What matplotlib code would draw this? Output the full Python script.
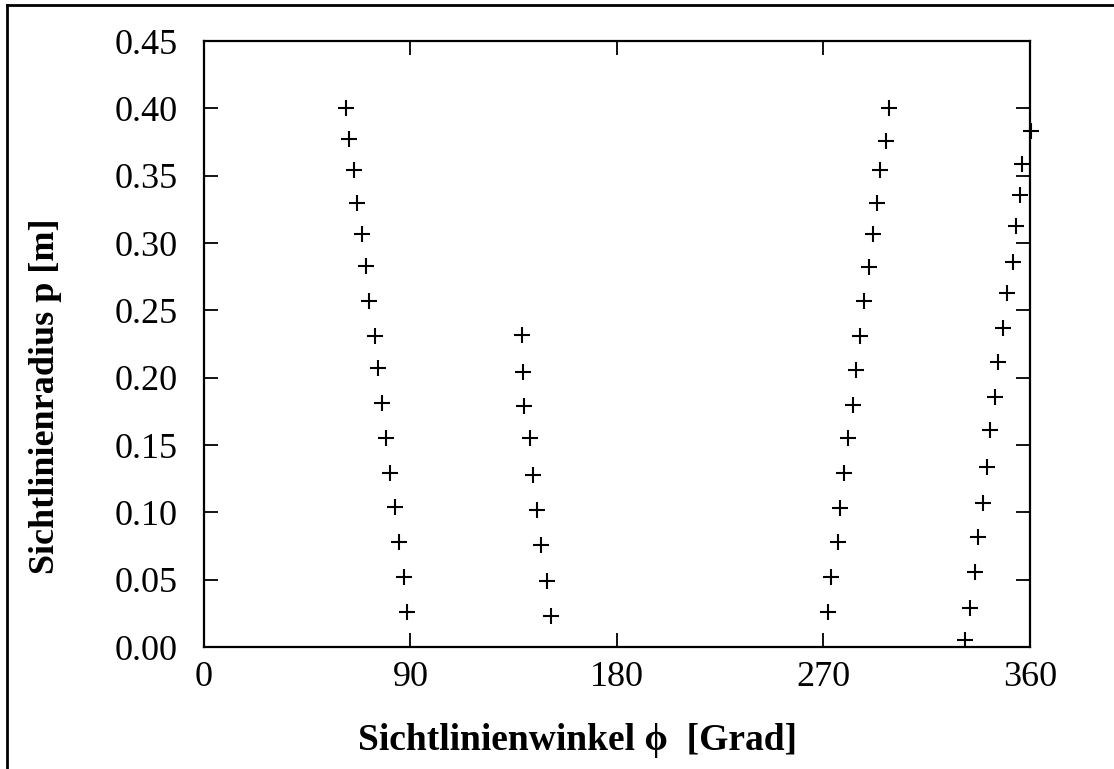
import numpy as np
import matplotlib.pyplot as plt
from matplotlib.lines import Line2D

SERIF = ['Liberation Serif', 'DejaVu Serif']

# line-of-sight angle [deg] and radius [m], one list per sweep
phi_1 = [88.3, 87.0, 84.8, 83.2, 80.9, 79.2, 77.6, 75.8, 74.5, 71.9, 70.6, 68.7, 66.5, 65.4, 63.3, 61.9]
rho_1 = [0.026, 0.052, 0.078, 0.104, 0.129, 0.155, 0.181, 0.207, 0.231, 0.257, 0.283, 0.307, 0.330, 0.354, 0.377, 0.400]

phi_2 = [151.1, 149.3, 146.9, 145.3, 143.2, 142.1, 139.5, 138.9, 138.5]
rho_2 = [0.023, 0.049, 0.076, 0.102, 0.128, 0.155, 0.179, 0.204, 0.232]

phi_3 = [271.8, 273.1, 276.2, 277.2, 278.9, 280.8, 282.7, 284.1, 285.9, 287.6, 289.9, 291.4, 293.4, 294.6, 297.2, 298.7]
rho_3 = [0.026, 0.052, 0.078, 0.103, 0.129, 0.155, 0.180, 0.206, 0.231, 0.257, 0.282, 0.307, 0.330, 0.354, 0.376, 0.400]

phi_4 = [331.6, 333.8, 336.0, 337.4, 339.6, 341.1, 342.5, 344.7, 346.2, 348.1, 349.8, 352.4, 353.9, 355.6, 356.3, 360.3]
rho_4 = [0.005, 0.029, 0.056, 0.082, 0.107, 0.134, 0.161, 0.186, 0.212, 0.237, 0.263, 0.286, 0.313, 0.336, 0.359, 0.383]

x_ticks = [0, 90, 180, 270, 360]
y_ticks = np.arange(0, 0.451, 0.05)

plt.rcParams['font.family'] = SERIF

fig = plt.figure(figsize=(11.14, 7.69), dpi=100)
ax = fig.add_axes([0.1831, 0.1586, 0.7415, 0.7880])

for px, py in [(phi_1, rho_1), (phi_2, rho_2), (phi_3, rho_3), (phi_4, rho_4)]:
    ax.plot(px, py, linestyle='none', marker='+', color='black',
            markersize=11, markeredgewidth=1.5, clip_on=False)

ax.set_xlim(0, 360)
ax.set_ylim(0, 0.45)
ax.set_xticks(x_ticks)
ax.set_yticks(y_ticks)
ax.set_yticklabels(['%.2f' % v for v in y_ticks])
ax.tick_params(direction='in', length=10, width=1.3, labelsize=26,
               top=True, right=True)
ax.tick_params(axis='x', pad=10)
ax.tick_params(axis='y', pad=19)

for s in ax.spines.values():
    s.set_linewidth(1.6)

ax.set_xlabel('Sichtlinienwinkel ϕ  [Grad]', fontsize=27, fontweight='bold')
ax.set_ylabel('Sichtlinienradius p [m]', fontsize=26, fontweight='bold')
ax.xaxis.set_label_coords(0.452, -0.125)
ax.yaxis.set_label_coords(-0.172, 0.414)

# page edge left and top
fig.add_artist(Line2D([7 / 1114, 7 / 1114], [0, 1 - 5 / 769], transform=fig.transFigure,
                      color='black', linewidth=2))
fig.add_artist(Line2D([7 / 1114, 1], [1 - 5 / 769, 1 - 5 / 769], transform=fig.transFigure,
                      color='black', linewidth=2))

plt.savefig('out.png', dpi=100)
